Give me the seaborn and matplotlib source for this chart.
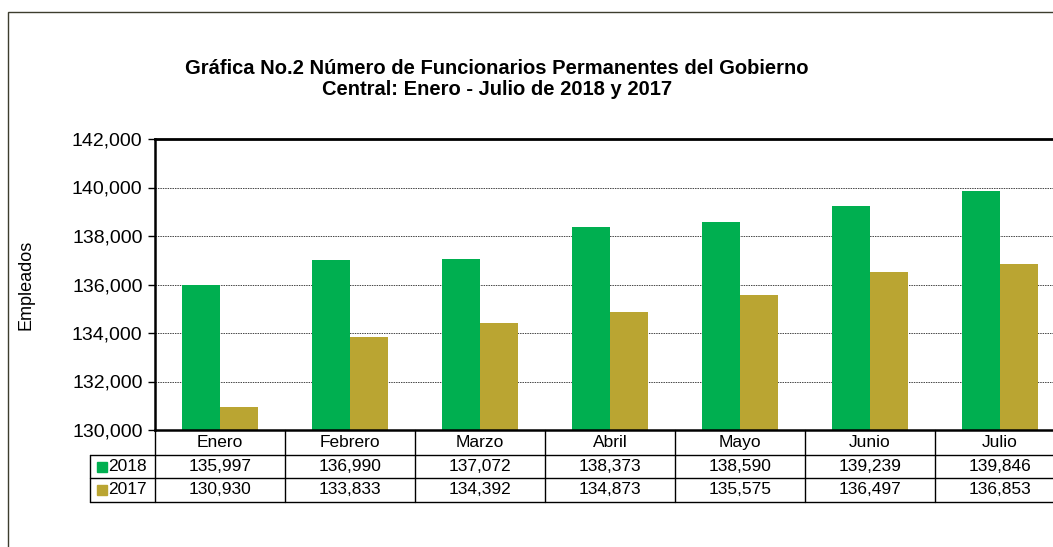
import pandas as pd
import seaborn as sns
import matplotlib.pyplot as plt
import matplotlib.transforms as mtransforms
from matplotlib.patches import Rectangle
from matplotlib.ticker import FuncFormatter

meses = ['Enero', 'Febrero', 'Marzo', 'Abril', 'Mayo', 'Junio', 'Julio']
anios = ['2018', '2017']
vals_2018 = [135997, 136990, 137072, 138373, 138590, 139239, 139846]
vals_2017 = [130930, 133833, 134392, 134873, 135575, 136497, 136853]
colores = {'2018': '#00AF50', '2017': '#BAA532'}

df = pd.DataFrame({
    'mes': meses * 2,
    'anio': ['2018'] * len(meses) + ['2017'] * len(meses),
    'valor': vals_2018 + vals_2017,
})

sns.set_style('white')
plt.rcParams['font.family'] = ['Liberation Sans', 'DejaVu Sans']
plt.rcParams['text.color'] = 'black'
plt.rcParams['axes.labelcolor'] = 'black'
plt.rcParams['ytick.color'] = 'black'

fig = plt.figure(figsize=(10.53, 5.47), dpi=100)
ax = fig.add_axes([155 / 1053, 117 / 547, 910 / 1053, 291 / 547])

sns.barplot(data=df, x='mes', y='valor', hue='anio', hue_order=anios,
            palette=colores, saturation=1, width=0.58, gap=0, dodge=True,
            ax=ax, edgecolor='none', errorbar=None, legend=False)

ax.set_ylim(130000, 142000)
ax.set_xlim(-0.5, len(meses) - 0.5)
ax.set_yticks(range(130000, 142001, 2000))
ax.yaxis.set_major_formatter(FuncFormatter(lambda v, p: f'{int(v):,}'))
ax.tick_params(axis='y', labelsize=14, length=5, width=1, color='black',
               labelcolor='black', left=True, pad=4)
ax.tick_params(axis='x', bottom=False, labelbottom=False)
ax.set_xlabel('')
ax.set_ylabel('Empleados', fontsize=13, color='black')
ax.yaxis.set_label_coords((34 - 155) / 910, 0.5)
ax.grid(axis='y', color='#444444', linestyle=(0, (1.5, 1)), linewidth=0.7)
ax.set_axisbelow(True)
for side in ['left', 'bottom', 'top']:
    ax.spines[side].set_visible(True)
    ax.spines[side].set_color('black')
ax.spines['top'].set_linewidth(2)
ax.spines['left'].set_linewidth(1.8)
ax.spines['bottom'].set_linewidth(1.8)
ax.spines['right'].set_visible(False)

# tabla de datos bajo el grafico
tr = mtransforms.blended_transform_factory(ax.transData, ax.transAxes)
filas_y = [0, -25 / 291, -48 / 291, -72 / 291]
xmax = len(meses) - 0.5
ln = dict(color='black', linewidth=1, transform=tr, clip_on=False)
ax.plot([-0.5, -0.5], [filas_y[0], filas_y[3]], **ln)
for i in range(len(meses)):
    ax.plot([i + 0.5, i + 0.5], [filas_y[0], filas_y[3]], **ln)
for yy in filas_y[1:]:
    ax.plot([-1.0, xmax + 0.2], [yy, yy], **ln)
ax.plot([-1.0, -1.0], [filas_y[1], filas_y[3]], **ln)

fs = 12.5
for i, m in enumerate(meses):
    ax.text(i, (filas_y[0] + filas_y[1]) / 2, m, transform=tr, ha='center',
            va='center', fontsize=fs)
for r, (anio, vals) in enumerate([('2018', vals_2018), ('2017', vals_2017)]):
    yc = (filas_y[r + 1] + filas_y[r + 2]) / 2
    for i, v in enumerate(vals):
        ax.text(i, yc, f'{v:,}', transform=tr, ha='center', va='center',
                fontsize=fs)
    ax.plot([-0.91], [yc], marker='s', markersize=7, color=colores[anio],
            linestyle='none', transform=tr, clip_on=False)
    ax.text(-0.86, yc, anio, transform=tr, ha='left', va='center',
            fontsize=fs)

fig.text(497 / 1053, 1 - 79 / 547,
         'Gráfica No.2 Número de Funcionarios Permanentes del Gobierno\n'
         'Central: Enero - Julio de 2018 y 2017',
         ha='center', va='center', multialignment='center',
         fontsize=14.5, fontweight='bold', linespacing=1.15)

fig.add_artist(Rectangle((8 / 1053, -0.1), 1.2, 0.1 + 1 - 12 / 547,
                         transform=fig.transFigure, fill=False,
                         edgecolor='#3d3d2e', linewidth=1))

fig.savefig('out.png', dpi=100)
